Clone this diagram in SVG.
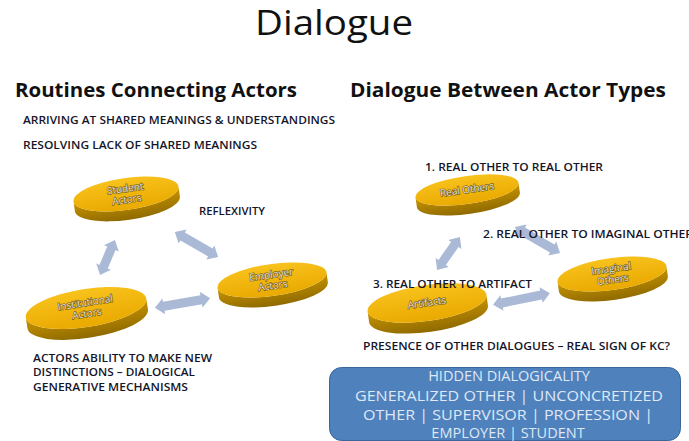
<svg xmlns="http://www.w3.org/2000/svg" width="689" height="441" viewBox="0 0 689 441">
  <defs>
    <linearGradient id="gTop" x1="0" y1="0" x2="0" y2="1">
      <stop offset="0" stop-color="#f8c21c"/>
      <stop offset="1" stop-color="#e9a900"/>
    </linearGradient>
    <linearGradient id="gSide" x1="0" y1="0" x2="0" y2="1">
      <stop offset="0" stop-color="#c99500"/>
      <stop offset="1" stop-color="#8f6a00"/>
    </linearGradient>
  </defs>
  <style>
    .head { font-family: "Open Sans", "Liberation Sans", sans-serif; font-weight: bold; font-size: 19px; fill: #111111; }
    .cap { font-family: "Open Sans", "Liberation Sans", sans-serif; font-weight: 600; font-size: 10.5px; fill: #15152a; }
    .top { fill: url(#gTop); }
    .side { fill: url(#gSide); }
    .lbl { font-family: "Open Sans", "Liberation Sans", sans-serif; font-size: 10px; fill: #e4e4e4; stroke: #7a5c08; stroke-width: 1.3px; paint-order: stroke; text-anchor: middle; }
    .arrow { fill: #a9b9d6; }
    .boxtxt { font-family: "Open Sans", "Liberation Sans", sans-serif; font-size: 14.5px; fill: #dfe8f5; text-anchor: middle; }
  </style>

  <rect width="689" height="441" fill="#ffffff"/>

  <!-- connectors: double-headed block arrows -->
  <g id="connectors" class="arrow">
    <path transform="translate(107.5,257.5) rotate(113)" d="M -19 0 L -10 -8 L -10 -4.5 L 10 -4.5 L 10 -8 L 19 0 L 10 8 L 10 4.5 L -10 4.5 L -10 8 Z"/>
    <path transform="translate(196.5,244.5) rotate(30)" d="M -25 0 L -16 -8 L -16 -4.5 L 16 -4.5 L 16 -8 L 25 0 L 16 8 L 16 4.5 L -16 4.5 L -16 8 Z"/>
    <path transform="translate(182.5,303) rotate(-10)" d="M -28 0 L -19 -8 L -19 -4.5 L 19 -4.5 L 19 -8 L 28 0 L 19 8 L 19 4.5 L -19 4.5 L -19 8 Z"/>
    <path transform="translate(448.5,253.5) rotate(125)" d="M -20 0 L -11 -8 L -11 -4.5 L 11 -4.5 L 11 -8 L 20 0 L 11 8 L 11 4.5 L -11 4.5 L -11 8 Z"/>
    <path transform="translate(537.5,240) rotate(30)" d="M -26 0 L -17 -8 L -17 -4.5 L 17 -4.5 L 17 -8 L 26 0 L 17 8 L 17 4.5 L -17 4.5 L -17 8 Z"/>
    <path transform="translate(521.5,299) rotate(-11.5)" d="M -29 0 L -20 -8 L -20 -4.5 L 20 -4.5 L 20 -8 L 29 0 L 20 8 L 20 4.5 L -20 4.5 L -20 8 Z"/>
  </g>

  <!-- actor discs -->
  <g id="student-actors" transform="translate(126,194) rotate(-8)">
    <path class="side" d="M -53 0 A 53 16 0 0 0 53 0 L 53 10 A 53 16 0 0 1 -53 10 Z"/>
    <ellipse class="top" rx="53" ry="16"/>
    <text class="lbl" y="-2">Student</text>
    <text class="lbl" y="9">Actors</text>
  </g>
  <g id="employer-actors" transform="translate(272,280) rotate(-8)">
    <path class="side" d="M -55 0 A 55 16 0 0 0 55 0 L 55 10 A 55 16 0 0 1 -55 10 Z"/>
    <ellipse class="top" rx="55" ry="16"/>
    <text class="lbl" y="-2">Employer</text>
    <text class="lbl" y="9">Actors</text>
  </g>
  <g id="institutional-actors" transform="translate(86,308) rotate(-9)">
    <path class="side" d="M -61 0 A 61 19 0 0 0 61 0 L 61 11 A 61 19 0 0 1 -61 11 Z"/>
    <ellipse class="top" rx="61" ry="19"/>
    <text class="lbl" y="-2">Institutional</text>
    <text class="lbl" y="9">Actors</text>
  </g>
  <g id="real-others" transform="translate(467,190) rotate(-8)">
    <path class="side" d="M -52 0 A 52 14 0 0 0 52 0 L 52 10 A 52 14 0 0 1 -52 10 Z"/>
    <ellipse class="top" rx="52" ry="14"/>
    <text class="lbl" y="3">Real Others</text>
  </g>
  <g id="imaginal-others" transform="translate(612,274) rotate(-8)">
    <path class="side" d="M -55 0 A 55 16 0 0 0 55 0 L 55 10 A 55 16 0 0 1 -55 10 Z"/>
    <ellipse class="top" rx="55" ry="16"/>
    <text class="lbl" y="-2">Imaginal</text>
    <text class="lbl" y="9">Others</text>
  </g>
  <g id="artifacts" transform="translate(427,303) rotate(-8)">
    <path class="side" d="M -60 0 A 60 18 0 0 0 60 0 L 60 11 A 60 18 0 0 1 -60 11 Z"/>
    <ellipse class="top" rx="60" ry="18"/>
    <text class="lbl" y="3">Artifacts</text>
  </g>

  <!-- title -->
  <text x="255" y="35" font-family="'Open Sans', 'Liberation Sans', sans-serif" font-size="34" fill="#111111" textLength="158" lengthAdjust="spacingAndGlyphs">Dialogue</text>

  <!-- column headings -->
  <text class="head" x="15" y="97" textLength="282" lengthAdjust="spacingAndGlyphs">Routines Connecting Actors</text>
  <text class="head" x="350" y="97" textLength="316" lengthAdjust="spacingAndGlyphs">Dialogue Between Actor Types</text>

  <!-- left notes -->
  <text class="cap" x="23" y="124" textLength="312" lengthAdjust="spacingAndGlyphs">ARRIVING AT SHARED MEANINGS &amp; UNDERSTANDINGS</text>
  <text class="cap" x="23" y="149" textLength="234" lengthAdjust="spacingAndGlyphs">RESOLVING LACK OF SHARED MEANINGS</text>
  <text class="cap" x="199" y="215" textLength="66" lengthAdjust="spacingAndGlyphs">REFLEXIVITY</text>
  <text class="cap" x="33" y="362" textLength="179" lengthAdjust="spacingAndGlyphs">ACTORS ABILITY  TO MAKE NEW</text>
  <text class="cap" x="33" y="376" textLength="162" lengthAdjust="spacingAndGlyphs">DISTINCTIONS  – DIALOGICAL</text>
  <text class="cap" x="33" y="391" textLength="155" lengthAdjust="spacingAndGlyphs">GENERATIVE  MECHANISMS</text>

  <!-- right notes -->
  <text class="cap" x="425" y="171" textLength="178" lengthAdjust="spacingAndGlyphs">1. REAL OTHER TO REAL OTHER</text>
  <text class="cap" x="483" y="238" textLength="210" lengthAdjust="spacingAndGlyphs">2. REAL OTHER TO IMAGINAL OTHER</text>
  <text class="cap" x="373" y="288" textLength="159" lengthAdjust="spacingAndGlyphs">3. REAL OTHER TO ARTIFACT</text>
  <text class="cap" x="363" y="350" textLength="307" lengthAdjust="spacingAndGlyphs">PRESENCE OF OTHER DIALOGUES  – REAL SIGN OF KC?</text>

  <!-- hidden dialogicality box -->
  <g id="hidden-dialogicality">
    <rect x="329.5" y="367.5" width="351" height="73" rx="12" fill="#4f81bd" stroke="#3a6699" stroke-width="1"/>
    <text class="boxtxt" x="509" y="381">HIDDEN DIALOGICALITY</text>
    <text class="boxtxt" x="509" y="401" textLength="308" lengthAdjust="spacingAndGlyphs">GENERALIZED OTHER | UNCONCRETIZED</text>
    <text class="boxtxt" x="508" y="420" textLength="290" lengthAdjust="spacingAndGlyphs">OTHER | SUPERVISOR | PROFESSION |</text>
    <text class="boxtxt" x="508" y="438">EMPLOYER | STUDENT</text>
  </g>
</svg>
